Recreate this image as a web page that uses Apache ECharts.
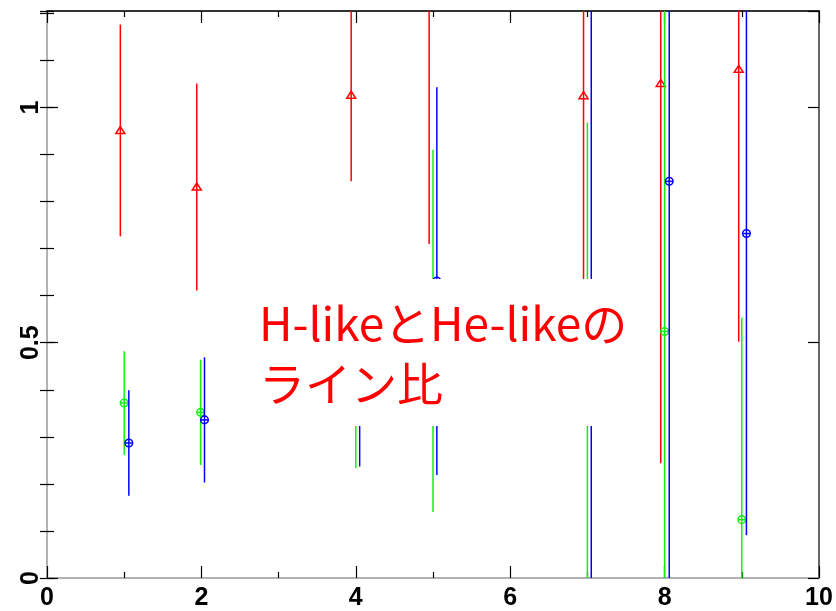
<!DOCTYPE html>
<html><head><meta charset="utf-8">
<script src="https://cdn.jsdelivr.net/npm/echarts@6/dist/echarts.min.js"></script>
<style>html,body{margin:0;padding:0;background:#fff}#c{width:836px;height:611px}</style>
</head><body><div id="c"></div>
<script>
// ---- data ----
const xMin = 0, xMax = 10, xMajor = 2;
const yMin = 0, yMax = 1.205, yMajor = 0.5, yMinor = 0.1;

const redX   = [0.95, 1.94, 3.94, 4.95, 6.95, 7.95, 8.96];
const redY   = [0.951, 0.831, 1.026, 1.50, 1.025, 1.051, 1.081];
const redErr = [0.225, 0.220, 0.183, 0.79, 0.50, 0.807, 0.579];

const greenX   = [1.00, 1.99, 4.00, 5.00, 7.00, 8.00, 9.00];
const greenY   = [0.372, 0.352, 0.40, 0.525, 0.42, 0.524, 0.124];
const greenErr = [0.110, 0.112, 0.166, 0.385, 0.548, 0.75, 0.429];

const blueX   = [1.06, 2.04, 4.05, 5.05, 7.05, 8.06, 9.06];
const blueY   = [0.287, 0.336, 0.42, 0.631, 0.50, 0.843, 0.732];
const blueErr = [0.112, 0.133, 0.183, 0.412, 0.90, 0.90, 0.641];

const annotationLines = ['H-likeとHe-likeの', 'ライン比'];

// ---- chart ----
const chart = echarts.init(document.getElementById('c'), null, {renderer: 'canvas'});

function errSeries(name, xs, ys, errs, color, shape) {
  return {
    type: 'custom', name: name, xAxisIndex: 0, yAxisIndex: 0, z: 5,
    data: xs.map((x, i) => [x, ys[i], errs[i]]),
    renderItem: function (params, api) {
      const x = api.value(0), y = api.value(1), e = api.value(2);
      const cs = params.coordSys;
      const c = api.coord([x, y]);
      const top = api.coord([x, y + e]);
      const bot = api.coord([x, y - e]);
      const y0 = Math.max(cs.y, top[1]);
      const y1 = Math.min(cs.y + cs.height, bot[1]);
      const children = [];
      if (y1 > y0) {
        children.push({type: 'line', shape: {x1: c[0], y1: y0, x2: c[0], y2: y1},
          style: {stroke: color, lineWidth: 1.5}});
      }
      if (c[1] >= cs.y && c[1] <= cs.y + cs.height) {
        if (shape === 'tri') {
          children.push({type: 'polygon',
            shape: {points: [[c[0], c[1] - 4], [c[0] - 4.5, c[1] + 3], [c[0] + 4.5, c[1] + 3]]},
            style: {fill: 'none', stroke: color, lineWidth: 1.5}});
        } else {
          children.push({type: 'circle', shape: {cx: c[0], cy: c[1], r: 3.8},
            style: {fill: 'none', stroke: color, lineWidth: 1.5}});
          children.push({type: 'line', shape: {x1: c[0] - 3.8, y1: c[1], x2: c[0] + 3.8, y2: c[1]},
            style: {stroke: color, lineWidth: 1.5}});
        }
      }
      return {type: 'group', children: children};
    }
  };
}

const labelFont = {fontFamily: 'Liberation Sans', fontSize: 25, fontWeight: 'bold', color: '#000'};

function isMajor(v) { return Math.abs(v / yMajor - Math.round(v / yMajor)) < 1e-6; }

const option = {
  backgroundColor: '#fff',
  animation: false,
  grid: {left: 47, right: 17, top: 11, bottom: 33, containLabel: false, outerBoundsMode: 'none'},
  xAxis: [
    {type: 'value', position: 'bottom', min: xMin, max: xMax, interval: xMajor,
     axisLine: {show: true, onZero: false, lineStyle: {color: '#999', width: 1.5}},
     axisTick: {show: true, inside: true, length: 12, lineStyle: {color: '#000', width: 1.2}},
     minorTick: {show: true, splitNumber: 2, length: 6, lineStyle: {color: '#000', width: 1.2}},
     axisLabel: Object.assign({margin: 8}, labelFont),
     splitLine: {show: false}},
    {type: 'value', position: 'top', min: xMin, max: xMax, interval: xMajor,
     axisLine: {show: true, onZero: false, lineStyle: {color: '#333', width: 2}},
     axisTick: {show: true, inside: true, length: 12, lineStyle: {color: '#000', width: 1.2}},
     minorTick: {show: true, splitNumber: 2, length: 6, lineStyle: {color: '#000', width: 1.2}},
     axisLabel: {show: false}, splitLine: {show: false}}
  ],
  yAxis: [
    {type: 'value', position: 'left', min: yMin, max: yMax, interval: yMajor,
     axisLine: {show: true, onZero: false, lineStyle: {color: '#999', width: 1.5}},
     axisTick: {show: true, inside: true, length: 11, lineStyle: {color: '#000', width: 1.2}},
     axisLabel: Object.assign({margin: 3, rotate: 90, showMaxLabel: false,
       formatter: v => isMajor(v) ? String(v) : ''}, labelFont),
     splitLine: {show: false}},
    {type: 'value', position: 'left', min: yMin, max: yMax, interval: yMinor,
     axisLine: {show: false},
     axisTick: {show: true, inside: true, length: 7, lineStyle: {color: '#000', width: 1.2}},
     axisLabel: {show: false}, splitLine: {show: false}},
    {type: 'value', position: 'right', min: yMin, max: yMax, interval: yMajor,
     axisLine: {show: true, onZero: false, lineStyle: {color: '#333', width: 1.5}},
     axisTick: {show: true, inside: true, length: 11, lineStyle: {color: '#000', width: 1.2}},
     axisLabel: {show: false}, splitLine: {show: false}},
    {type: 'value', position: 'right', min: yMin, max: yMax, interval: yMinor,
     axisLine: {show: false},
     axisTick: {show: true, inside: true, length: 7, lineStyle: {color: '#000', width: 1.2}},
     axisLabel: {show: false}, splitLine: {show: false}}
  ],
  series: [
    errSeries('red', redX, redY, redErr, '#ff0000', 'tri'),
    errSeries('green', greenX, greenY, greenErr, '#11f011', 'circ'),
    errSeries('blue', blueX, blueY, blueErr, '#0000ff', 'circ')
  ],
  graphic: [
    {type: 'rect', x: 250, y: 279, shape: {width: 380, height: 147}, style: {fill: '#fff'}, z: 100},
    {type: 'text', x: 259, y: 294, z: 101,
     style: {text: annotationLines.join('\n'), fill: '#ff0000', fontSize: 46,
       fontFamily: '"Noto Sans CJK JP"', lineHeight: 60, verticalAlign: 'top'}}
  ]
};
chart.setOption(option);
</script>
</body></html>
